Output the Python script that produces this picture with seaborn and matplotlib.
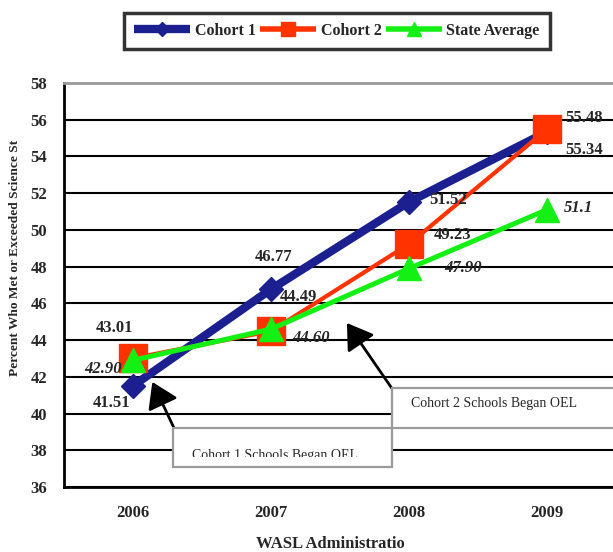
import matplotlib
matplotlib.use("Agg")
import matplotlib.pyplot as plt
from matplotlib.lines import Line2D
from matplotlib.patches import Rectangle
from matplotlib.transforms import Bbox
import seaborn as sns
import pandas as pd

# WASL science results by administration year
years = ["2006", "2007", "2008", "2009"]
cohort1 = [41.51, 46.77, 51.52, 55.34]
cohort2 = [43.01, 44.49, 49.23, 55.48]
state_avg = [42.90, 44.60, 47.90, 51.1]
state_decimals = [2, 2, 2, 1]
series_names = ["Cohort 1", "Cohort 2", "State Average"]
y_ticks = list(range(36, 59, 2))

NAVY = "#1B1F8F"
RED = "#FF3300"
GREEN = "#14F014"
SERIF = "Liberation Serif"

sns.set_style("white")
plt.rcParams["font.family"] = [SERIF, "DejaVu Serif"]

W, H = 613, 552
fig = plt.figure(figsize=(W / 100, H / 100), dpi=100)
ax = fig.add_axes([64 / W, 65 / H, 552 / W, 404 / H])

df = pd.DataFrame({"year": years * 3,
                   "value": cohort1 + cohort2 + state_avg,
                   "series": sum([[n] * len(years) for n in series_names], [])})

styles = {
    "Cohort 1": dict(color=NAVY, lw=6, marker="D", ms=12, mec=NAVY, mew=1),
    "Cohort 2": dict(color=RED, lw=3, marker="s", ms=20, mec=RED, mew=1),
    "State Average": dict(color=GREEN, lw=3.6, marker="^", ms=17, mec=GREEN, mew=1),
}
for name in series_names:
    sub = df[df["series"] == name]
    sns.lineplot(data=sub, x="year", y="value", ax=ax, legend=False,
                 sort=False, **styles[name])

ax.set_xlim(-0.5, 3.5)
ax.set_ylim(36, 58)
ax.set_yticks(y_ticks)
ax.set_xticks(range(len(years)))
ax.set_xticklabels(years)
ax.set_xticks([-0.5, 0.5, 1.5, 2.5, 3.5], minor=True)
ax.set_xlabel("")
ax.set_ylabel("")

ax.set_axisbelow(True)
ax.yaxis.grid(True, color="black", lw=1.5)
ax.xaxis.grid(False)
for side in ("left", "bottom"):
    ax.spines[side].set_color("black")
    ax.spines[side].set_linewidth(2)
ax.spines["top"].set_color("#9a9a9a")
ax.spines["top"].set_linewidth(2)
ax.spines["right"].set_visible(False)

ax.tick_params(axis="y", which="major", direction="out", length=5, width=2,
               color="black", pad=7)
ax.tick_params(axis="x", which="major", length=0, pad=13)
ax.tick_params(axis="x", which="minor", direction="out", length=5, width=2,
               color="black")
for lab in ax.get_xticklabels() + ax.get_yticklabels():
    lab.set_fontfamily(SERIF)
    lab.set_fontweight("bold")
    lab.set_fontsize(12)

PX = 0.72  # points per pixel


def label(i, v, text, dx, dy, italic=False):
    ax.annotate(text, xy=(i, v), xytext=(dx * PX, dy * PX),
                textcoords="offset points", ha="center", va="center",
                fontsize=12, fontweight="bold", family=SERIF,
                fontstyle="italic" if italic else "normal", zorder=6)


c1_off = [(-21, -17), (3, 32), (39, 2), (37, -18)]
c2_off = [(-19, 30), (27, 34), (44, 9), (37, 11)]
st_off = [(-30, -9), (40, -9), (54, 0), (31, 2)]
for i in range(len(years)):
    label(i, cohort1[i], f"{cohort1[i]:.2f}", *c1_off[i])
    label(i, cohort2[i], f"{cohort2[i]:.2f}", *c2_off[i])
    label(i, state_avg[i], f"{state_avg[i]:.{state_decimals[i]}f}", *st_off[i],
          italic=True)

# Legend
handles = [
    Line2D([], [], color=NAVY, lw=6, marker="D", ms=7, mec=NAVY,
           solid_capstyle="butt"),
    Line2D([], [], color=RED, lw=4, marker="s", ms=10, mec=RED,
           solid_capstyle="butt"),
    Line2D([], [], color=GREEN, lw=4, marker="^", ms=10, mec=GREEN,
           solid_capstyle="butt"),
]
leg = fig.legend(handles, series_names, loc="center",
                 bbox_to_anchor=(337 / W, (H - 31) / H), ncol=3,
                 prop=dict(family=SERIF, weight="bold", size=11.5),
                 frameon=True, fancybox=False, handlelength=3.5,
                 handletextpad=0.3, columnspacing=0.25, borderpad=0.65,
                 borderaxespad=0)
leg.get_frame().set_edgecolor("black")
leg.get_frame().set_linewidth(2.5)

# Axis titles
fig.text(15 / W, (H - 258) / H, "Percent Who Met or Exceeded Science St",
         rotation=90, ha="center", va="center", fontsize=9.6,
         fontweight="bold", family=SERIF)
fig.text(330 / W, (H - 544) / H, "WASL Administratio", ha="center",
         va="center", fontsize=12, fontweight="bold", family=SERIF)

# Callout boxes with arrows
boxes = [
    ((173, H - 467), 219, 39),
    ((392, H - 428), 240, 40),
]
for (x0, y0), w, h in boxes:
    fig.patches.append(Rectangle((x0, y0), w, h, transform=None,
                                 facecolor="white", edgecolor="#9a9a9a",
                                 lw=1.6, zorder=5, figure=fig))

t1 = fig.text(275 / W, (H - 455) / H, "Cohort 1 Schools Began OEL",
              ha="center", va="center", fontsize=10, family=SERIF,
              zorder=6)
t1.set_clip_box(Bbox.from_extents(175, H - 457, 390, H - 430))
t1.set_clip_on(True)
fig.text(494 / W, (H - 404) / H, "Cohort 2 Schools Began OEL",
         ha="center", va="center", fontsize=10, family=SERIF, zorder=6)

arrow = dict(arrowstyle="-|>,head_length=0.7,head_width=0.45", lw=2,
             color="black", shrinkA=0, shrinkB=0, mutation_scale=22)
ax.annotate("", xy=(0.14, 41.72), xytext=(174, H - 428),
            textcoords="figure pixels", arrowprops=arrow, zorder=4)
ax.annotate("", xy=(1.55, 44.93), xytext=(393, H - 390),
            textcoords="figure pixels", arrowprops=arrow, zorder=4)

fig.savefig("out.png", dpi=100)
